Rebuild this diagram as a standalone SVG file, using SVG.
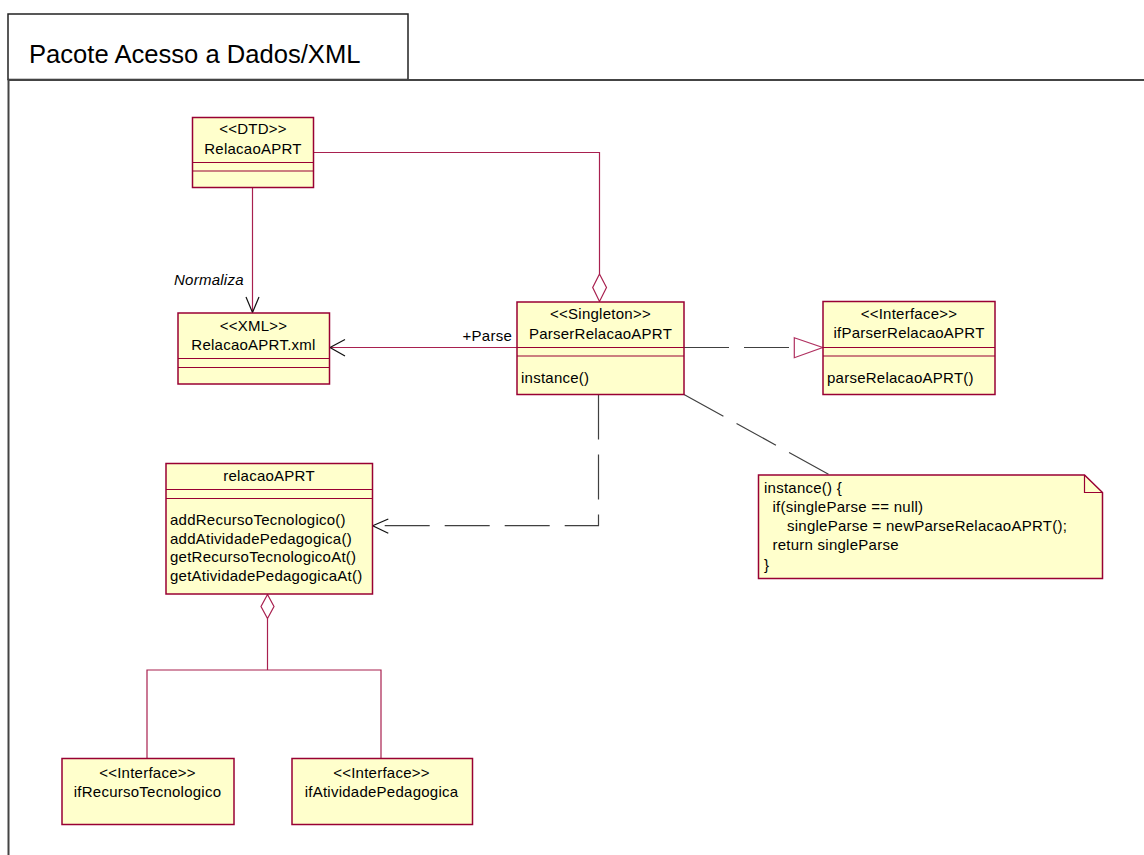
<svg xmlns="http://www.w3.org/2000/svg" width="1144" height="855" viewBox="0 0 1144 855">
  <style>
    .cls { fill: #ffffcc; stroke: #990033; stroke-width: 1.5; }
    .sep { stroke: #990033; stroke-width: 1.2; fill: none; }
    .t { font-family: "Liberation Sans", Arial, sans-serif; font-size: 15px; letter-spacing: 0.25px; fill: #000; }
    .c { text-anchor: middle; }
    .assoc { stroke: #a8204f; stroke-width: 1.2; fill: none; }
    .dash { stroke: #404040; stroke-width: 1.2; fill: none; stroke-dasharray: 45 15; }
    .head { stroke: #111; stroke-width: 1.2; fill: none; }
  </style>

  <!-- package frame -->
  <g id="package">
    <rect x="8" y="14" width="400" height="65.5" fill="#fff" stroke="#222" stroke-width="1.5"/>
    <path d="M1144,80 H8.5 V855" fill="none" stroke="#444" stroke-width="2"/>
    <text x="29" y="63" font-family="Liberation Sans, Arial, sans-serif" font-size="25.6" fill="#000">Pacote Acesso a Dados/XML</text>
  </g>

  <!-- connectors -->
  <g id="connectors">
    <!-- Normaliza -->
    <line class="assoc" x1="252.5" y1="188" x2="252.5" y2="312"/>
    <polyline class="head" points="246,297 252.5,312.5 259,297"/>
    <text class="t" x="174" y="285" font-style="italic">Normaliza</text>

    <!-- +Parse -->
    <line class="assoc" x1="517" y1="347.5" x2="330" y2="347.5"/>
    <polyline class="head" points="345,339.5 330,347.5 345,356"/>
    <text class="t" x="512" y="341" text-anchor="end" letter-spacing="0">+Parse</text>

    <!-- aggregation DTD -> Singleton -->
    <polyline class="assoc" points="313.5,152.5 599.5,152.5 599.5,274"/>
    <polygon points="599.5,274 592.7,287.5 599.5,301.5 606.5,287.5" fill="#fff" stroke="#a8204f" stroke-width="1.2"/>

    <!-- realization Singleton -> ifParserRelacaoAPRT -->
    <line class="dash" x1="684" y1="347.5" x2="794" y2="347.5"/>
    <polygon points="794.3,337.7 822.7,347.5 794.3,357.7" fill="#fff" stroke="#b03060" stroke-width="1.2"/>

    <!-- dependency Singleton -> relacaoAPRT -->
    <polyline class="dash" points="598.5,394.5 598.5,525.7 373,525.7"/>
    <polyline class="head" points="388.3,519 372.7,525.7 388.3,533.3"/>

    <!-- note anchor -->
    <line class="dash" x1="684" y1="394.5" x2="830" y2="475"/>

    <!-- aggregation relacaoAPRT -> interfaces -->
    <polygon points="267.5,594.5 261,606.5 267.5,618.5 274,606.5" fill="#fff" stroke="#a8204f" stroke-width="1.2"/>
    <line class="assoc" x1="267.5" y1="618.5" x2="267.5" y2="670"/>
    <polyline class="assoc" points="147,758.5 147,670 381,670 381,758.5"/>
  </g>

  <g id="dtd-relacaoaprt">
    <rect class="cls" x="192.5" y="117.5" width="121" height="70"/>
    <line class="sep" x1="192.5" y1="162.5" x2="313.5" y2="162.5"/>
    <line class="sep" x1="192.5" y1="171" x2="313.5" y2="171"/>
    <text class="t c" x="253" y="134">&lt;&lt;DTD&gt;&gt;</text>
    <text class="t c" x="253" y="154">RelacaoAPRT</text>
  </g>

  <g id="xml-relacaoaprt">
    <rect class="cls" x="178" y="313" width="151.5" height="71"/>
    <line class="sep" x1="178" y1="358.5" x2="329.5" y2="358.5"/>
    <line class="sep" x1="178" y1="367.5" x2="329.5" y2="367.5"/>
    <text class="t c" x="253.5" y="331">&lt;&lt;XML&gt;&gt;</text>
    <text class="t c" x="253.5" y="350">RelacaoAPRT.xml</text>
  </g>

  <g id="parser-relacaoaprt">
    <rect class="cls" x="517" y="302" width="167" height="92.5"/>
    <line class="sep" x1="517" y1="347.5" x2="684" y2="347.5"/>
    <line class="sep" x1="517" y1="356" x2="684" y2="356"/>
    <text class="t c" x="600.5" y="318.5">&lt;&lt;Singleton&gt;&gt;</text>
    <text class="t c" x="600.5" y="338.5">ParserRelacaoAPRT</text>
    <text class="t" x="521" y="382.5">instance()</text>
  </g>

  <g id="if-parser-relacaoaprt">
    <rect class="cls" x="823" y="301.5" width="172" height="93"/>
    <line class="sep" x1="823" y1="347.5" x2="995" y2="347.5"/>
    <line class="sep" x1="823" y1="356" x2="995" y2="356"/>
    <text class="t c" x="909" y="318.5">&lt;&lt;Interface&gt;&gt;</text>
    <text class="t c" x="909" y="338">ifParserRelacaoAPRT</text>
    <text class="t" x="827" y="382.5">parseRelacaoAPRT()</text>
  </g>

  <g id="relacaoaprt">
    <rect class="cls" x="166" y="463.5" width="206.5" height="130.5"/>
    <line class="sep" x1="166" y1="489.5" x2="372.5" y2="489.5"/>
    <line class="sep" x1="166" y1="498.5" x2="372.5" y2="498.5"/>
    <text class="t c" x="269" y="481">relacaoAPRT</text>
    <text class="t" x="170" y="525">addRecursoTecnologico()</text>
    <text class="t" x="170" y="543.5">addAtividadePedagogica()</text>
    <text class="t" x="170" y="562">getRecursoTecnologicoAt()</text>
    <text class="t" x="170" y="580.5">getAtividadePedagogicaAt()</text>
  </g>

  <g id="note-instance">
    <path d="M758.5,475 H1084.5 L1102.5,492.5 V578.5 H758.5 Z" fill="#ffffcc" stroke="#990033" stroke-width="1.5"/>
    <polyline class="sep" points="1084.5,475 1084.5,492.5 1102.5,492.5"/>
    <text class="t" x="764" y="492.5">instance() {</text>
    <text class="t" x="772.5" y="512">if(singleParse == null)</text>
    <text class="t" x="787" y="531">singleParse = newParseRelacaoAPRT();</text>
    <text class="t" x="772.5" y="550">return singleParse</text>
    <text class="t" x="764" y="569.5">}</text>
  </g>

  <g id="if-recurso-tecnologico">
    <rect class="cls" x="62" y="758.5" width="172" height="66"/>
    <text class="t c" x="147.5" y="777.5">&lt;&lt;Interface&gt;&gt;</text>
    <text class="t c" x="147.5" y="797">ifRecursoTecnologico</text>
  </g>

  <g id="if-atividade-pedagogica">
    <rect class="cls" x="292" y="758.5" width="180.5" height="66"/>
    <text class="t c" x="381.5" y="777.5">&lt;&lt;Interface&gt;&gt;</text>
    <text class="t c" x="381.5" y="797">ifAtividadePedagogica</text>
  </g>
</svg>
